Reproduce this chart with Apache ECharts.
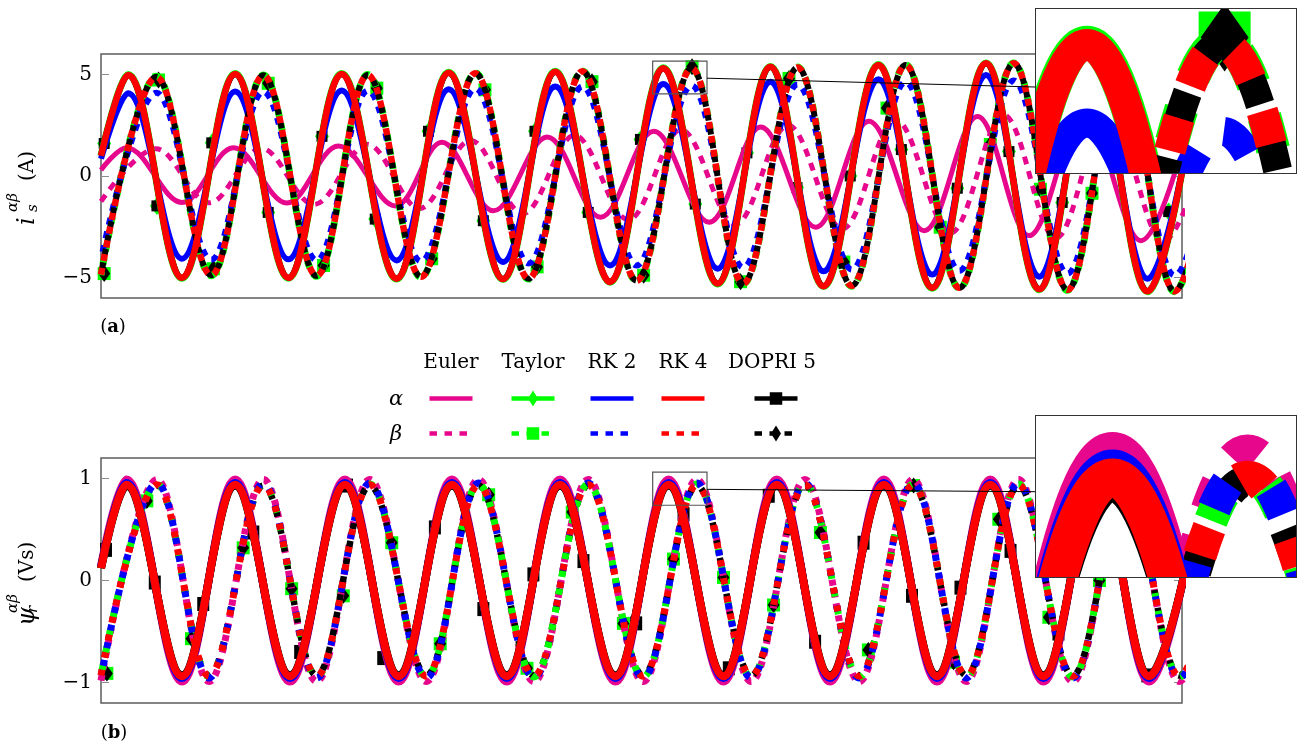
<!DOCTYPE html>
<html><head><meta charset="utf-8">
<script src="https://cdn.jsdelivr.net/npm/echarts@6/dist/echarts.min.js"></script>
<style>
html,body{margin:0;padding:0;background:#fff;}
#main{position:absolute;left:0;top:0;width:1314px;height:753px;}
.inset{position:absolute;background:#fff;border:1.5px solid #333;box-sizing:border-box;overflow:hidden;}
#insetA{left:1035px;top:8px;width:262px;height:166px;}
#insetB{left:1035px;top:415px;width:262px;height:163px;}
</style></head><body>
<div id="main"></div><div id="insetA" class="inset"></div><div id="insetB" class="inset"></div>
<script>
// ================= DATA (time in ms) =================
// ---- panel (a): stator current i_s (A); extrema of each trace ----
const aAlphaT      = [0, 5.1, 15.2, 25.2, 35.2, 45.2, 55.5, 65.3, 75.5, 85.3, 95.6, 105.6, 115.8, 125.7, 135.7, 146.0, 156.1, 166.2, 176.2, 186.3, 196.5, 206.5];
const aRk4Alpha    = [1.0, 4.97, -5.01, 5.02, -5.01, 5.02, -5.05, 5.08, -5.07, 5.13, -5.21, 5.3, -5.29, 5.37, -5.42, 5.46, -5.5, 5.54, -5.57, 5.6, -5.67, 5.7];
const aTaylorAlpha = [1.0, 4.99, -5.03, 5.04, -5.03, 5.04, -5.07, 5.1, -5.09, 5.15, -5.23, 5.32, -5.31, 5.39, -5.44, 5.48, -5.52, 5.56, -5.59, 5.62, -5.69, 5.72];
const aDopriAlpha  = [1.0, 4.96, -5.0, 5.01, -5.0, 5.01, -5.04, 5.07, -5.06, 5.12, -5.2, 5.29, -5.28, 5.36, -5.41, 5.45, -5.49, 5.53, -5.56, 5.59, -5.66, 5.69];
const aRk2Alpha    = [0.85, 4.07, -4.07, 4.15, -4.1, 4.2, -4.15, 4.27, -4.23, 4.4, -4.4, 4.53, -4.56, 4.64, -4.69, 4.76, -4.85, 4.97, -4.95, 5.05, -5.05, 5.15];
const aBetaT       = [0, 10.4, 20.7, 30.5, 40.5, 50.1, 60.1, 70.3, 80.3, 90.4, 100.6, 110.9, 120.6, 130.8, 141.0, 151.1, 161.2, 171.4, 181.5, 191.6, 201.6, 211.7];
const aRk4Beta     = [-4.85, 4.88, -4.88, 4.95, -4.91, 4.97, -4.96, 5.05, -5.05, 5.15, -5.15, 5.3, -5.29, 5.34, -5.4, 5.46, -5.5, 5.54, -5.6, 5.62, -5.67, 5.7];
const aTaylorBeta  = [-4.87, 4.9, -4.9, 4.97, -4.93, 4.99, -4.98, 5.07, -5.07, 5.17, -5.17, 5.32, -5.31, 5.36, -5.42, 5.48, -5.52, 5.56, -5.62, 5.64, -5.69, 5.72];
const aDopriBeta   = [-4.85, 4.88, -4.88, 4.95, -4.91, 4.97, -4.96, 5.05, -5.05, 5.15, -5.15, 5.3, -5.29, 5.34, -5.4, 5.46, -5.5, 5.54, -5.6, 5.62, -5.67, 5.7];
const aRk2Beta     = [-4.07, 4.1, -4.12, 4.15, -4.15, 4.2, -4.2, 4.3, -4.3, 4.4, -4.4, 4.45, -4.5, 4.5, -4.6, 4.62, -4.66, 4.7, -4.8, 4.85, -4.9, 4.95];
const aEulerAlphaT = [0, 4.8, 15.2, 24.9, 34.9, 44.6, 55.3, 64.0, 73.7, 83.8, 93.8, 103.8, 114.2, 123.9, 134.2, 144.2, 154.6, 164.6, 174.3, 184.6, 195.3, 205.0];
const aEulerAlpha  = [0.3, 1.39, -1.3, 1.39, -1.33, 1.47, -1.47, 1.66, -1.71, 1.92, -2.03, 2.2, -2.28, 2.41, -2.52, 2.69, -2.69, 2.93, -2.93, 3.05, -3.18, 3.3];
const aEulerBetaT  = [0, 10.3, 20.3, 30.1, 40.0, 50.0, 59.8, 69.4, 79.2, 88.9, 99.0, 108.9, 119.1, 129.0, 139.2, 149.2, 159.5, 169.5, 179.3, 189.2, 199.5, 209.5];
const aEulerBeta   = [-1.25, 1.34, -1.32, 1.36, -1.4, 1.55, -1.6, 1.75, -1.85, 2.0, -2.15, 2.28, -2.38, 2.5, -2.6, 2.77, -2.8, 3.0, -3.05, 3.15, -3.2, 3.3];
// markers (Taylor / DOPRI sample points)
const aMarkAlphaT  = [0.6, 10.5, 20.8, 31.4, 41.5, 51.5, 61.5, 71.8, 81.5, 91.5, 101.3, 111.6, 121.3, 130.7, 140.7, 150.3, 160.8, 170.5, 180.5, 190.5, 200.5];
const aMarkAlpha   = [1.6, -1.47, 1.63, -1.79, 1.95, -2.12, 2.2, -2.2, 2.2, -1.79, 1.8, -1.38, 1.14, -0.57, 0.0, 1.3, -0.6, 1.2, -1.3, 1.55, -1.75];
const aMarkBetaT   = [0.6, 10.8, 21.1, 31.4, 41.8, 51.8, 62.1, 72.1, 81.9, 92.2, 101.9, 111.0, 120.1, 129.2, 139.5, 147.6, 157.6, 167.0, 176.4, 186.1, 195.6];
const aMarkBeta    = [-4.8, 4.72, -4.56, 4.56, -4.4, 4.32, -4.07, 4.24, -4.47, 4.64, -4.88, 5.37, -5.2, 4.8, -4.23, 3.34, -2.52, 1.55, -0.65, -0.85, 2.1];

// ---- panel (b): rotor flux psi_r (Vs) ----
const bAlphaT      = [0, 4.8, 15.2, 25.2, 35.5, 45.8, 55.9, 65.9, 76.2, 86.2, 96.6, 106.6, 116.9, 126.9, 136.9, 147.0, 157.0, 167.0, 177.0, 187.1, 196.8, 206.9];
const bRk4Alpha    = [0.12, 0.937, -0.937, 0.937, -0.937, 0.937, -0.937, 0.937, -0.937, 0.937, -0.937, 0.937, -0.937, 0.937, -0.937, 0.937, -0.937, 0.937, -0.937, 0.937, -0.937, 0.937];
const bTaylorAlpha = [0.12, 0.94, -0.94, 0.94, -0.94, 0.94, -0.94, 0.94, -0.94, 0.94, -0.94, 0.94, -0.94, 0.94, -0.94, 0.94, -0.94, 0.94, -0.94, 0.94, -0.94, 0.94];
const bDopriAlpha  = [0.12, 0.927, -0.927, 0.927, -0.927, 0.927, -0.927, 0.927, -0.927, 0.927, -0.927, 0.927, -0.927, 0.927, -0.927, 0.927, -0.927, 0.927, -0.927, 0.927, -0.927, 0.927];
const bRk2Alpha    = [0.13, 0.955, -0.955, 0.955, -0.955, 0.955, -0.955, 0.955, -0.955, 0.955, -0.955, 0.955, -0.955, 0.955, -0.955, 0.955, -0.955, 0.955, -0.955, 0.955, -0.955, 0.955];
const bEulerAlpha  = [0.14, 0.99, -0.99, 0.99, -0.99, 0.99, -0.99, 0.99, -0.99, 0.99, -0.99, 0.99, -0.99, 0.99, -0.99, 0.99, -0.99, 0.99, -0.99, 0.99, -0.99, 0.99];
const bBetaT       = [0, 10.5, 20.3, 30.5, 40.5, 50.5, 61.1, 70.9, 81.3, 91.5, 101.8, 111.9, 122.1, 132.2, 142.4, 152.5, 162.5, 172.3, 182.5, 192.5, 202.5, 212.6];
const bRk4Beta     = [-0.93, 0.937, -0.937, 0.937, -0.937, 0.937, -0.937, 0.937, -0.937, 0.937, -0.937, 0.937, -0.937, 0.937, -0.937, 0.937, -0.937, 0.937, -0.937, 0.937, -0.937, 0.937];
const bTaylorBeta  = [-0.935, 0.945, -0.945, 0.945, -0.945, 0.945, -0.945, 0.945, -0.945, 0.945, -0.945, 0.945, -0.945, 0.945, -0.945, 0.945, -0.945, 0.945, -0.945, 0.945, -0.945, 0.945];
const bDopriBeta   = [-0.925, 0.93, -0.93, 0.93, -0.93, 0.93, -0.93, 0.93, -0.93, 0.93, -0.93, 0.93, -0.93, 0.93, -0.93, 0.93, -0.93, 0.93, -0.93, 0.93, -0.93, 0.93];
const bRk2Beta     = [-0.95, 0.955, -0.955, 0.955, -0.955, 0.955, -0.955, 0.955, -0.955, 0.955, -0.955, 0.955, -0.955, 0.955, -0.955, 0.955, -0.955, 0.955, -0.955, 0.955, -0.955, 0.955];
const bEulerBeta   = [-0.98, 0.99, -0.99, 0.99, -0.99, 0.99, -0.99, 0.99, -0.99, 0.99, -0.99, 0.99, -0.99, 0.99, -0.99, 0.99, -0.99, 0.99, -0.99, 0.99, -0.99, 0.99];
const bMarkAlphaT  = [0.94, 10.1, 19.2, 28.6, 37.4, 46.2, 53.0, 62.7, 71.8, 81.2, 90.6, 100.5, 109.4, 117.9, 125.4, 134.1, 143.2, 152.3, 161.4, 170.8, 179.8, 188.8, 196.5];
const bMarkAlpha   = [0.3, -0.02, -0.23, 0.47, -0.70, 0.93, -0.76, 0.52, -0.28, 0.06, 0.19, -0.42, 0.65, -0.86, 0.83, -0.6, 0.37, -0.15, -0.07, 0.29, -0.52, 0.8, -0.93];
const bMarkBetaT   = [1.1, 8.6, 17.0, 26.7, 35.8, 45.5, 54.6, 63.7, 72.8, 80.0, 88.5, 98.1, 107.5, 116.9, 126.3, 135.1, 144.1, 152.6, 160.1, 168.6, 178.0, 187.5, 196.5];
const bMarkBeta    = [-0.91, 0.78, -0.57, 0.32, -0.08, -0.15, 0.37, -0.62, 0.84, -0.86, 0.67, -0.42, 0.21, 0.03, -0.24, 0.47, -0.68, 0.93, -0.8, 0.6, -0.36, 0.0, 0.29];

// axes / ticks / windows
const tMax = 203;
const aRange = [-6, 6], aTicks = [-5, 0, 5];
const bRange = [-1.2, 1.2], bTicks = [-1, 0, 1];
const aZoomT = [103.6, 113.8], aZoomV = [4.04, 5.65];
const bZoomT = [103.6, 113.8], bZoomV = [0.737, 1.061];
const methods = ['Euler', 'Taylor', 'RK 2', 'RK 4', 'DOPRI 5'];

// ================= STYLE =================
const FONT = '"DejaVu Serif"';
const MAG = '#E6078C', GRN = '#00FF00', BLU = '#0000FF', RED = '#FF0000', BLK = '#000000';
const SMOOTH = 0.36;

function pts(ts, vs) { return ts.map((t, i) => [t, vs[i]]); }

const aCurves = [
  {t: aEulerAlphaT, v: aEulerAlpha, color: MAG, width: 5},
  {t: aEulerBetaT, v: aEulerBeta, color: MAG, width: 5, dash: [8, 7]},
  {t: aAlphaT, v: aTaylorAlpha, color: GRN, width: 7},
  {t: aBetaT, v: aTaylorBeta, color: GRN, width: 7, dash: [7, 7], off: 3.5},
  {t: aMarkAlphaT, v: aMarkAlpha, marker: 'diamond', size: [14, 18], color: GRN},
  {t: aMarkBetaT, v: aMarkBeta, marker: 'rect', size: [13, 13], color: GRN},
  {t: aAlphaT, v: aRk2Alpha, color: BLU, width: 6},
  {t: aBetaT, v: aRk2Beta, color: BLU, width: 6, dash: [7, 7], off: 7},
  {t: aAlphaT, v: aDopriAlpha, color: BLK, width: 6},
  {t: aBetaT, v: aDopriBeta, color: BLK, width: 6, dash: [6, 8], off: 7.5},
  {t: aMarkAlphaT, v: aMarkAlpha, marker: 'rect', size: [11, 11], color: BLK},
  {t: aMarkBetaT, v: aMarkBeta, marker: 'diamond', size: [12, 17], color: BLK},
  {t: aAlphaT, v: aRk4Alpha, color: RED, width: 6.5},
  {t: aBetaT, v: aRk4Beta, color: RED, width: 6.5, dash: [7, 7], off: 0}
];
const bCurves = [
  {t: bAlphaT, v: bEulerAlpha, color: MAG, width: 8},
  {t: bBetaT, v: bEulerBeta, color: MAG, width: 7, dash: [6, 6]},
  {t: bAlphaT, v: bTaylorAlpha, color: GRN, width: 8},
  {t: bBetaT, v: bDopriBeta, color: BLK, width: 6.5, dash: [6, 12], off: 0},
  {t: bBetaT, v: bTaylorBeta, color: GRN, width: 7, dash: [6, 12], off: 12},
  {t: bMarkBetaT, v: bMarkBeta, marker: 'rect', size: [13, 13], color: GRN},
  {t: bAlphaT, v: bRk2Alpha, color: BLU, width: 8},
  {t: bBetaT, v: bRk2Beta, color: BLU, width: 7, dash: [6, 12], off: 6},
  {t: bAlphaT, v: bDopriAlpha, color: BLK, width: 8},
  {t: bMarkAlphaT, v: bMarkAlpha, marker: 'rect', size: [12, 14], color: BLK},
  {t: bMarkBetaT, v: bMarkBeta, marker: 'diamond', size: [12, 16], color: BLK},
  {t: bAlphaT, v: bRk4Alpha, color: RED, width: 8},
  {t: bBetaT, v: bRk4Beta, color: RED, width: 7, dash: [6, 12], off: 0}
];

function buildSeries(curves, xi, yi, k, km, markersOnTop) {
  const list = markersOnTop ? curves.filter(c => !c.marker).concat(curves.filter(c => c.marker)) : curves;
  return list.map(c => c.marker ? {
    type: 'scatter', xAxisIndex: xi, yAxisIndex: yi, data: pts(c.t, c.v),
    symbol: c.marker, symbolSize: c.size.map(s => s * km), itemStyle: {color: c.color, opacity: 1},
    silent: true, animation: false, clip: true
  } : {
    type: 'line', xAxisIndex: xi, yAxisIndex: yi, data: pts(c.t, c.v), smooth: SMOOTH,
    symbol: 'none', showSymbol: false, silent: true, animation: false, clip: true,
    lineStyle: {color: c.color, width: c.width * k, type: c.dash ? c.dash.map(d => d * k) : 'solid',
      dashOffset: (c.off || 0) * k, cap: 'butt', join: 'round', opacity: 1}
  });
}

const fmt = v => (v < 0 ? '\u2212' + Math.abs(v) : String(v));
function yAx(grid, range, ticks, pos) {
  return {gridIndex: grid, type: 'value', min: range[0], max: range[1], position: pos,
    axisLine: {show: false}, splitLine: {show: false},
    axisTick: {show: true, inside: true, length: 8, lineStyle: {color: '#8c8c8c', width: 1}, customValues: ticks},
    axisLabel: {show: pos === 'left', customValues: ticks, formatter: fmt, fontFamily: 'DejaVu Serif', fontSize: 20, color: '#000', margin: 9}};
}
const gridStyle = {show: true, borderColor: '#5c5c5c', borderWidth: 1.5, backgroundColor: 'transparent'};

const chart = echarts.init(document.getElementById('main'), null, {renderer: 'canvas', devicePixelRatio: 1});
chart.setOption({
  animation: false,
  grid: [Object.assign({left: 101, top: 54, width: 1081, height: 244}, gridStyle),
         Object.assign({left: 101, top: 458, width: 1081, height: 245}, gridStyle)],
  xAxis: [{gridIndex: 0, type: 'value', min: 0, max: tMax, show: false},
          {gridIndex: 1, type: 'value', min: 0, max: tMax, show: false}],
  yAxis: [yAx(0, aRange, aTicks, 'left'), yAx(0, aRange, aTicks, 'right'),
          yAx(1, bRange, bTicks, 'left'), yAx(1, bRange, bTicks, 'right')],
  series: buildSeries(aCurves, 0, 0, 1, 1, true).concat(buildSeries(bCurves, 1, 2, 1, 1, true))
});

function insetChart(id, curves, zt, zv, k) {
  const c = echarts.init(document.getElementById(id), null, {renderer: 'canvas', devicePixelRatio: 1});
  c.setOption({
    animation: false,
    grid: {left: 0, right: 0, top: 0, bottom: 0},
    xAxis: {type: 'value', min: zt[0], max: zt[1], show: false},
    yAxis: {type: 'value', min: zv[0], max: zv[1], show: false},
    series: buildSeries(curves, 0, 0, k, 4, false)
  });
}
insetChart('insetA', aCurves, aZoomT, aZoomV, 4.85);
insetChart('insetB', bCurves, bZoomT, bZoomV, 4.8);

// ================= annotations =================
function txt(text, x, y, font, align, extra) {
  return Object.assign({type: 'text', z: 50, style: {text: text, x: x, y: y, font: font, fill: '#000',
    textAlign: align || 'center', textVerticalAlign: 'middle', align: align || 'center', verticalAlign: 'middle'}}, extra || {});
}
function seg(x1, x2, y, color, w, dash) {
  return {type: 'line', z: 50, shape: {x1: x1, y1: y, x2: x2, y2: y}, style: {stroke: color, lineWidth: w, lineDash: dash || null, lineCap: 'butt'}};
}
function diamond(cx, cy, w, h, color) {
  return {type: 'polygon', z: 51, shape: {points: [[cx, cy - h / 2], [cx + w / 2, cy], [cx, cy + h / 2], [cx - w / 2, cy]]}, style: {fill: color}};
}
function square(cx, cy, s, color) {
  return {type: 'rect', z: 51, shape: {x: cx - s / 2, y: cy - s / 2, width: s, height: s}, style: {fill: color}};
}
function zoomBox(xi, yi, zt, zv, endX, endY, linkV) {
  const p1 = chart.convertToPixel({xAxisIndex: xi, yAxisIndex: yi}, [zt[0], zv[1]]);
  const p2 = chart.convertToPixel({xAxisIndex: xi, yAxisIndex: yi}, [zt[1], zv[0]]);
  const pl = chart.convertToPixel({xAxisIndex: xi, yAxisIndex: yi}, [zt[1], linkV]);
  return [
    {type: 'rect', z: 60, shape: {x: p1[0], y: p1[1], width: p2[0] - p1[0], height: p2[1] - p1[1]}, style: {fill: null, stroke: '#555', lineWidth: 1.2}},
    {type: 'line', z: 60, shape: {x1: pl[0], y1: pl[1], x2: endX, y2: endY}, style: {stroke: '#000', lineWidth: 1}}
  ];
}

const legX = [451, 533, 612, 683, 776], yA = 398.5, yB = 433.5, hw = 21.5, dsh = [7.5, 7.5];
const legColors = [MAG, GRN, BLU, RED, BLK];
const g = [];
methods.forEach((m, i) => {
  g.push(txt(m, i === 4 ? 772 : legX[i], 363, '20px ' + FONT));
  g.push(seg(legX[i] - hw, legX[i] + hw, yA, legColors[i], 4.5));
  g.push(seg(legX[i] - hw, legX[i] - hw + 37.5, yB, legColors[i], 4.5, dsh));
});
g.push(diamond(533, yA, 10, 16, GRN), square(533, yB, 12.5, GRN), square(776, yA, 12.5, BLK), diamond(776, yB, 10, 16, BLK));
g.push(txt('\u03b1', 396, 400, 'italic 21px ' + FONT), txt('\u03b2', 396, 435, 'italic 21px ' + FONT));
g.push(txt('({b|a})', 113, 327, '18px ' + FONT, 'center', {}));
g[g.length - 1].style.rich = {b: {fontWeight: 'bold', fontFamily: 'DejaVu Serif', fontSize: 18}};
g.push(txt('({b|b})', 114, 733, '18px ' + FONT, 'center', {}));
g[g.length - 1].style.rich = {b: {fontWeight: 'bold', fontFamily: 'DejaVu Serif', fontSize: 18}};
function ylab(x, y, main, sub, unit) {
  return {type: 'group', x: x, y: y, rotation: Math.PI / 2, z: 50, children: [
    txt(main, 2, 0, 'italic 24px ' + FONT, 'left'),
    txt(sub, 15, 5, 'italic 15px ' + FONT, 'left'),
    txt('\u03b1\u03b2', 15, -15, 'italic 15px ' + FONT, 'left'),
    txt(unit, 46, 0, '20px ' + FONT, 'left')
  ]};
}
g.push(ylab(28, 227, 'i', 's', '(A)'));
g.push(ylab(28, 628, '\u03c8', 'r', '(Vs)'));
zoomBox(0, 0, aZoomT, aZoomV, 1035, 87, 4.81).forEach(e => g.push(e));
zoomBox(1, 2, bZoomT, bZoomV, 1035, 491.7, 0.893).forEach(e => g.push(e));
chart.setOption({graphic: g});
</script></body></html>
